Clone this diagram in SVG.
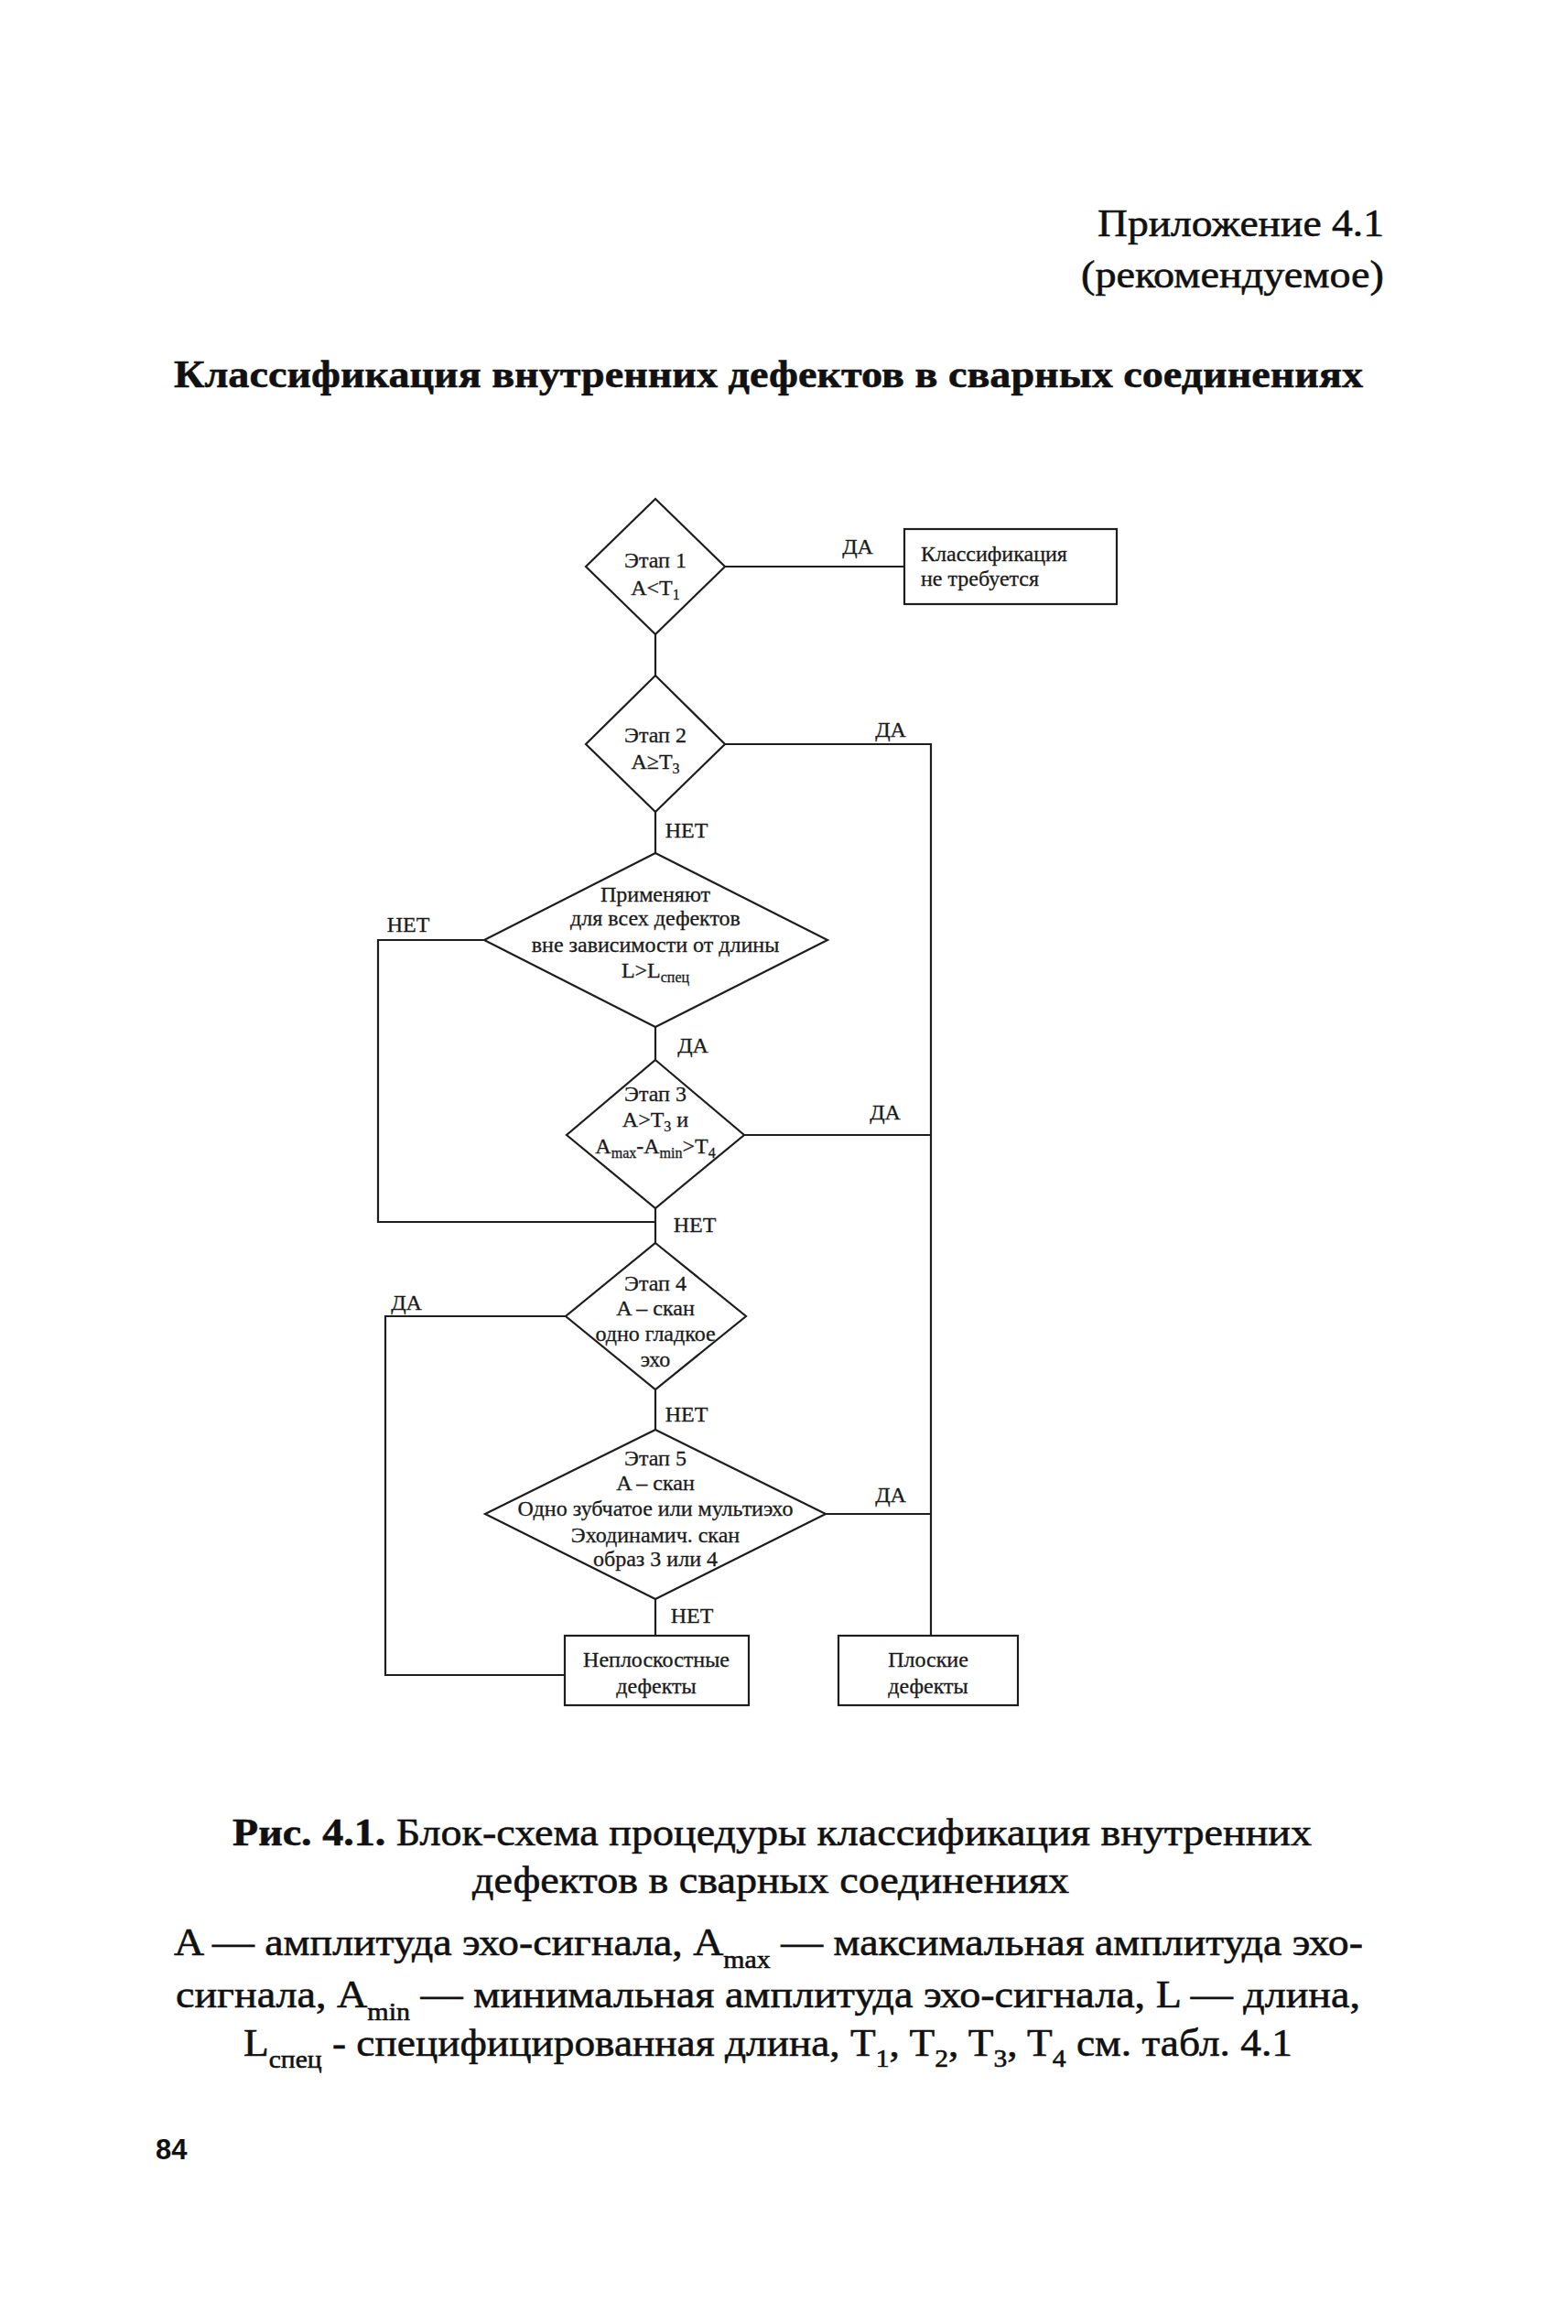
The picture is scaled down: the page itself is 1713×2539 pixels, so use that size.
<svg xmlns="http://www.w3.org/2000/svg" width="1713" height="2539" viewBox="0 0 1713 2539">
<style>
.bg{fill:#ffffff}
.shape{fill:none;stroke:#1e1e1e;stroke-width:2.2}
.conn{fill:none;stroke:#1e1e1e;stroke-width:2.2}
.t{font-family:"Liberation Serif","Times New Roman",serif;font-size:24px;fill:#1a1a1a;stroke:#1a1a1a;stroke-width:0.3}
.c{text-anchor:middle}
.lbl{font-family:"Liberation Serif","Times New Roman",serif;font-size:24px;fill:#1a1a1a;stroke:#1a1a1a;stroke-width:0.3;text-anchor:middle}
.big{font-family:"Liberation Serif","Times New Roman",serif;font-size:43px;fill:#111;stroke:#111;stroke-width:0.6}
.bold{font-weight:bold}
.sub{font-size:16px}
.csub{font-size:28px}
.pg{font-family:"Liberation Sans",Arial,sans-serif;font-size:31px;font-weight:bold;fill:#111}
</style>
<rect class="bg" x="0" y="0" width="1713" height="2539"/>

<g id="header">
<text class="big" x="1512" y="258" text-anchor="end" textLength="313" lengthAdjust="spacingAndGlyphs">Приложение 4.1</text>
<text class="big" x="1512" y="314" text-anchor="end" textLength="331" lengthAdjust="spacingAndGlyphs">(рекомендуемое)</text>
<text class="big bold" x="190" y="423" textLength="1299" lengthAdjust="spacingAndGlyphs">Классификация внутренних дефектов в сварных соединениях</text>
</g>

<g id="connectors">
<polyline class="conn" points="716,693 716,738"/>
<polyline class="conn" points="792,619 988,619"/>
<polyline class="conn" points="792,813 1017,813 1017,1787"/>
<polyline class="conn" points="716,887 716,932"/>
<polyline class="conn" points="529,1027 413,1027 413,1335 716,1335"/>
<polyline class="conn" points="716,1122 716,1158"/>
<polyline class="conn" points="813,1240 1017,1240"/>
<polyline class="conn" points="716,1320 716,1358"/>
<polyline class="conn" points="618,1438 421,1438 421,1830 617,1830"/>
<polyline class="conn" points="716,1518 716,1562"/>
<polyline class="conn" points="902,1654 1017,1654"/>
<polyline class="conn" points="716,1747 716,1787"/>
<text class="lbl" x="937" y="605">ДА</text>
<text class="lbl" x="973" y="805">ДА</text>
<text class="lbl" x="750" y="915">НЕТ</text>
<text class="lbl" x="446" y="1018">НЕТ</text>
<text class="lbl" x="757" y="1150">ДА</text>
<text class="lbl" x="967" y="1223">ДА</text>
<text class="lbl" x="759" y="1346">НЕТ</text>
<text class="lbl" x="444" y="1431">ДА</text>
<text class="lbl" x="750" y="1553">НЕТ</text>
<text class="lbl" x="973" y="1641">ДА</text>
<text class="lbl" x="756" y="1773">НЕТ</text>
</g>

<g id="stage1">
<polygon class="shape" points="716,545 792,619 716,693 640,619"/>
<text class="t c" x="716" y="620">Этап 1</text>
<text class="t c" x="716" y="650">A&lt;T<tspan class="sub" dy="5">1</tspan></text>
</g>

<g id="no-classification">
<rect class="shape" x="988" y="578" width="232" height="82"/>
<text class="t" x="1006" y="613">Классификация</text>
<text class="t" x="1006" y="640">не требуется</text>
</g>

<g id="stage2">
<polygon class="shape" points="716,738 792,813 716,887 640,813"/>
<text class="t c" x="716" y="811">Этап 2</text>
<text class="t c" x="716" y="840">A≥T<tspan class="sub" dy="5">3</tspan></text>
</g>

<g id="length-check">
<polygon class="shape" points="716,932 904,1027 716,1122 529,1027"/>
<text class="t c" x="716" y="985">Применяют</text>
<text class="t c" x="716" y="1011">для всех дефектов</text>
<text class="t c" x="716" y="1040">вне зависимости от длины</text>
<text class="t c" x="716" y="1068">L&gt;L<tspan class="sub" dy="5">спец</tspan></text>
</g>

<g id="stage3">
<polygon class="shape" points="716,1158 813,1240 716,1320 619,1240"/>
<text class="t c" x="716" y="1203">Этап 3</text>
<text class="t c" x="716" y="1231">A&gt;T<tspan class="sub" dy="5">3</tspan><tspan dy="-5"> и</tspan></text>
<text class="t c" x="716" y="1260">A<tspan class="sub" dy="5">max</tspan><tspan dy="-5">-A</tspan><tspan class="sub" dy="5">min</tspan><tspan dy="-5">&gt;T</tspan><tspan class="sub" dy="5">4</tspan></text>
</g>

<g id="stage4">
<polygon class="shape" points="716,1358 815,1438 716,1518 618,1438"/>
<text class="t c" x="716" y="1410">Этап 4</text>
<text class="t c" x="716" y="1437">A – скан</text>
<text class="t c" x="716" y="1465">одно гладкое</text>
<text class="t c" x="716" y="1493">эхо</text>
</g>

<g id="stage5">
<polygon class="shape" points="716,1562 902,1654 716,1747 530,1654"/>
<text class="t c" x="716" y="1601">Этап 5</text>
<text class="t c" x="716" y="1628">A – скан</text>
<text class="t c" x="716" y="1656">Одно зубчатое или мультиэхо</text>
<text class="t c" x="716" y="1685">Эходинамич. скан</text>
<text class="t c" x="716" y="1711">образ 3 или 4</text>
</g>

<g id="nonplanar">
<rect class="shape" x="617" y="1787" width="201" height="76"/>
<text class="t c" x="717" y="1821">Неплоскостные</text>
<text class="t c" x="717" y="1850">дефекты</text>
</g>

<g id="planar">
<rect class="shape" x="916" y="1787" width="196" height="76"/>
<text class="t c" x="1014" y="1821">Плоские</text>
<text class="t c" x="1014" y="1850">дефекты</text>
</g>

<g id="caption">
<text class="big" x="254" y="2016" textLength="1179" lengthAdjust="spacingAndGlyphs"><tspan class="bold">Рис. 4.1.</tspan> Блок-схема процедуры классификация внутренних</text>
<text class="big" x="516" y="2068" textLength="652" lengthAdjust="spacingAndGlyphs">дефектов в сварных соединениях</text>
<text class="big" x="190" y="2136" textLength="1299" lengthAdjust="spacingAndGlyphs">A — амплитуда эхо-сигнала, A<tspan class="csub" dy="14">max</tspan><tspan dy="-14"> — максимальная амплитуда эхо-</tspan></text>
<text class="big" x="192" y="2193" textLength="1294" lengthAdjust="spacingAndGlyphs">сигнала, A<tspan class="csub" dy="14">min</tspan><tspan dy="-14"> — минимальная амплитуда эхо-сигнала, L — длина,</tspan></text>
<text class="big" x="266" y="2246" textLength="1146" lengthAdjust="spacingAndGlyphs">L<tspan class="csub" dy="13">спец</tspan><tspan dy="-13"> - специфицированная длина, T</tspan><tspan class="csub" dy="12">1</tspan><tspan dy="-12">, T</tspan><tspan class="csub" dy="12">2</tspan><tspan dy="-12">, T</tspan><tspan class="csub" dy="12">3</tspan><tspan dy="-12">, T</tspan><tspan class="csub" dy="12">4</tspan><tspan dy="-12"> см. табл. 4.1</tspan></text>
</g>

<g id="page-number">
<text class="pg" x="170" y="2359">84</text>
</g>
</svg>
